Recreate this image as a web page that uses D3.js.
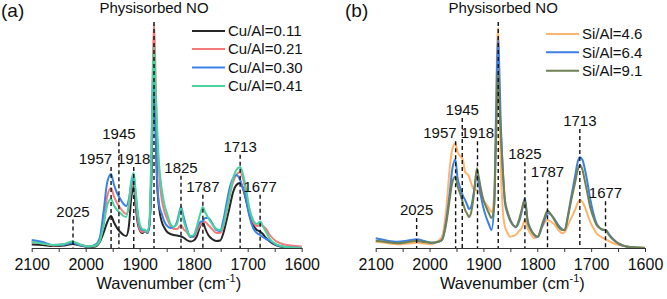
<!DOCTYPE html>
<html>
<head>
<meta charset="utf-8">
<script src="https://cdn.jsdelivr.net/npm/d3@7"></script>
<style>
  body { margin: 0; background: #fff; }
  text { font-family: "Liberation Sans", Arial, sans-serif; fill: #111; }
</style>
</head>
<body>
<svg id="chart" width="667" height="299"></svg>
<script>
// ---- data (intensity in arbitrary units) ----
const waveA = [2100,2080,2060,2040,2025,2010,1995,1982,1974,1967,1960,1953,1948,1942,1936,1930,1925,1920,1916,1911,
  1908,1904,1900,1895,1890,1886,1882,1878,1875.5,1873.5,1871.5,1868,1864,1859,1854,1849,1843,1837,1831,1827,
  1823.5,1819,1813,1806,1800,1794,1788,1783,1779,1773,1766,1758,1751,1745,1739,1733,1727,1721,1714,1709,
  1704,1697,1690,1683,1677,1672,1666,1659,1648,1635,1620,1600];
const cu011 = [4.5,4,3,3.5,5,3.5,2,2.5,7,16,27,33,27,21,17,14,13,23,49,63,
  46,27,19,16,18,16,24,79,149,174,139,69,41,27,21,17,15,14,13.5,13,
  12.5,11.5,9,7.5,8.5,13,23,27,21,14,10,8,8.5,16,29,43,57,64,66,61,
  51,35,24,19,17.5,15,11,7.5,4,2,1.5,1];
const cu021 = [7,5.5,3.5,4.5,6.5,4,2.5,3.5,9,27,53,61,53,46,41,37,35,42,59,71,
  53,31,20,17,18,16,24,99,189,225,194,114,74,49,37,30,23,20,20,22,
  24,20,17,12,12,18,24,27,27,24,20,16,16,23,37,54,67,74,77,71,
  59,39,27,23,24,23,20,14,8,5,3.5,2.5];
const cu030 = [9,7,4,4.5,6,4,2.5,4.5,11,37,67,75,65,56,50,45,43,50,63,73,
  57,36,23,19,19,16,24,89,169,194,149,74,44,35,27,23,21,22,27,36,
  42,33,21,12,13,21,27,28,31,31,26,19,18,29,46,62,71,74,69,61,
  52,33,21,16,14,12,10,8.3,4.5,2.5,1.5,1];
const cu041 = [7,5.5,4,5,7.5,4.5,2.5,3.5,8,23,44,50,44,39,36,33,32,46,67,76,
  61,39,25,20,19,17,27,109,179,203,169,124,84,59,44,35,25,22,25,34,
  41,29,19,13,14,23,35,42,37,31,25,20,19,24,39,56,71,79,82,75,
  63,41,29,25,27.5,23,17,10,5,2.5,1.5,1];

const waveB = [2100,2080,2060,2040,2024,2010,1996,1985,1977,1968,1962,1958,1952,1948,1943,1938,1934,1930,1927,1923,
  1918,1912,1909,1905,1900,1895,1890,1885,1880,1877,1874.5,1872.5,1870.5,1868,1864,1860,1855,1851,1845,1840,
  1834,1829,1823,1818,1813,1806,1799,1792,1787,1781,1774,1767,1761,1754,1749,1743,1737,1730,1725,1721,
  1716,1712,1707,1702,1696,1690,1684,1678,1673,1667,1662,1655,1647,1635,1622,1600];
const si46 = [7.3,6,4.7,5.5,6.3,5.5,4.7,8,12,46,84,99,105.7,97,93,89,77,75,73,66,
  60,59,57,54,49,45,41,37,54,129,204,221,169,89,39,22.3,16,12.3,13,14,
  18,20.7,29,21,15.7,11,12.5,20.7,26,29,27,24,19,15.7,17,24,31,39,46,49,
  47,42.3,35,27.3,21,15.7,13,11,9.7,8,6.5,5,4,2.5,1.7,1.3];
const si64 = [10.7,8.5,7.3,8.5,9.7,8,6.3,7,9,32.3,59,79,89.5,71,61,53,49,44,40,42,
  56,74,66,54,41,32,25,19,44,119,189,211,179,129,79,46,35,29,24,21.7,
  27,37,50.7,29,21,14,12,21,28,35.7,34,29,24,20,19,34,52,72.3,87,91.7,
  89,80.7,67,50.7,36,25.7,21,19,19,15,11.7,8,4.7,2.5,1.7,1];
const si91 = [8.3,7,5.7,7,8.3,7,6.3,7,9,29,52,66,72.5,63,55,46,39,35,32,36,
  53,80.7,73,61,49,42,36,31,44,99,154,179,149,119,79,49,37,30.7,24,22.3,
  29,39,49,27.3,20,14.5,12.3,23,31,38.3,34,28,22.3,19,19,32.3,49,65.7,79,84,
  79,69,56,42.3,32,24,21,19.5,19,14,10.7,7.5,5,2.5,1.7,1];

const tickValues = [2100,2050,2000,1950,1900,1850,1800,1750,1700,1650,1600];

const peakLabels = ["2025","1957","1945","1918","1825","1787","1713","1677"];
const peakPosA = [2023.5,1953,1938.5,1911,1823.5,1783,1714,1677];
const labelLevelA = [32.5,85,109.7,85,76.3,57.3,97.3,57.3];
const peakPosB = [2024,1951.6,1939.3,1911,1823,1781,1721,1673.3];
const labelLevelB = [34,110.7,134,110.7,89.7,71.7,123,50.7];
const physPosA = 1873.5, physPosB = 1872.5;

const namesA = ["Cu/Al=0.11","Cu/Al=0.21","Cu/Al=0.30","Cu/Al=0.41"];
const namesB = ["Si/Al=4.6","Si/Al=6.4","Si/Al=9.1"];

// ---- drawing ----
const svg = d3.select("#chart");
const font = '"Liberation Sans", Arial, sans-serif';

function drawPanel(p) {
  const g = svg.append("g");
  const x = d3.scaleLinear().domain([2100, 1600]).range(p.xRange);
  const y = d3.scaleLinear().domain([0, 225]).range([249, 24]);

  const line = d3.line()
    .x(d => x(d[0]))
    .y(d => y(d[1]))
    .curve(d3.curveMonotoneX);

  p.series.forEach((s, i) => {
    g.append("path")
      .datum(p.wave.map((w, j) => [w, s[j]]))
      .attr("fill", "none")
      .attr("stroke", p.colors[i])
      .attr("stroke-width", 2)
      .attr("stroke-linejoin", "round")
      .attr("d", line);
  });

  // dashed peak markers + labels
  const dashes = g.append("g");
  p.peaks.forEach((w, i) => {
    const px = x(w);
    const lv = y(p.levels[i]);
    dashes.append("line")
      .attr("x1", px).attr("x2", px)
      .attr("y1", lv + 3).attr("y2", 248)
      .attr("stroke", "#111").attr("stroke-width", 1.4)
      .attr("stroke-dasharray", "4,3");
    dashes.append("text")
      .attr("x", i === 1 ? px + 1 : px)
      .attr("y", lv)
      .attr("text-anchor", i === 1 ? "end" : "middle")
      .attr("font-size", 15)
      .text(peakLabels[i]);
  });

  // physisorbed NO
  dashes.append("line")
    .attr("x1", x(p.phys)).attr("x2", x(p.phys))
    .attr("y1", 22).attr("y2", 248)
    .attr("stroke", "#111").attr("stroke-width", 1.4)
    .attr("stroke-dasharray", "4,3");
  g.append("text")
    .attr("x", x(p.phys) + p.physShift)
    .attr("y", 13)
    .attr("text-anchor", "middle")
    .attr("font-size", 15)
    .text("Physisorbed NO");

  // axis
  const axis = d3.axisBottom(x)
    .tickValues(tickValues)
    .tickSize(4)
    .tickSizeOuter(0)
    .tickPadding(7)
    .tickFormat(d => d % 100 === 0 ? d : "");
  const ax = g.append("g").attr("transform", "translate(0,248)").call(axis);
  ax.attr("font-size", 16).attr("font-family", font);
  ax.select(".domain").attr("stroke", "#333").attr("stroke-width", 1.2);
  ax.selectAll(".tick line").attr("stroke", "#333");
  ax.selectAll(".tick text").attr("fill", "#111");

  const mid = (p.xRange[0] + p.xRange[1]) / 2;
  const title = g.append("text")
    .attr("x", mid + 2).attr("y", 289)
    .attr("text-anchor", "middle")
    .attr("font-size", 16.5);
  title.append("tspan").text("Wavenumber (cm");
  title.append("tspan").attr("font-size", 11).attr("dy", -7).text("-1");
  title.append("tspan").attr("dy", 7).text(")");

  // panel letter
  g.append("text")
    .attr("x", p.letterX).attr("y", 17)
    .attr("font-size", 19)
    .text(p.letter);

  // legend
  const lg = g.append("g");
  p.names.forEach((n, i) => {
    const ly = p.legendY[i];
    lg.append("line")
      .attr("x1", p.legendX).attr("x2", p.legendX + 33)
      .attr("y1", ly).attr("y2", ly)
      .attr("stroke", p.colors[i]).attr("stroke-width", 2);
    lg.append("text")
      .attr("x", p.legendX + 36).attr("y", ly)
      .attr("dy", "0.35em")
      .attr("font-size", 15)
      .text(n);
  });
}

drawPanel({
  xRange: [31.7, 301.7],
  wave: waveA,
  series: [cu011, cu021, cu030, cu041],
  colors: ["#262626", "#f47a7c", "#3b82e6", "#48d3a0"],
  names: namesA,
  peaks: peakPosA,
  levels: labelLevelA,
  phys: physPosA,
  physShift: 0,
  letter: "(a)",
  letterX: 1,
  legendX: 192,
  legendY: [31, 49, 67.5, 86]
});

drawPanel({
  xRange: [375.7, 645],
  wave: waveB,
  series: [si46, si64, si91],
  colors: ["#fdb46c", "#3d80e2", "#6f8052"],
  names: namesB,
  peaks: peakPosB,
  levels: labelLevelB,
  phys: physPosB,
  physShift: 5,
  letter: "(b)",
  letterX: 345,
  legendX: 546,
  legendY: [34, 52.3, 70.7]
});
</script>
</body>
</html>
